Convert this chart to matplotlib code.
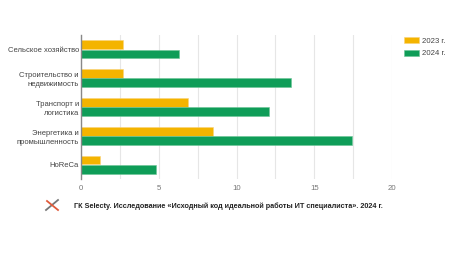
import matplotlib
matplotlib.use("Agg")
import matplotlib.pyplot as plt
import numpy as np

categories = ["Сельское хозяйство", "Строительство и\nнедвижимость", "Транспорт и\nлогистика",
              "Энергетика и\nпромышленность", "HoReCa"]
values_2023 = [2.7, 2.7, 6.9, 8.5, 1.2]
values_2024 = [6.3, 13.5, 12.1, 17.4, 4.85]
series_labels = ["2023 г.", "2024 г."]
xticks = [0, 5, 10, 15, 20]
footnote = "ГК Selecty. Исследование «Исходный код идеальной работы ИТ специалиста». 2024 г."

plt.rcParams['font.family'] = ['Liberation Sans', 'DejaVu Sans']

W, H = 462, 256
fig = plt.figure(figsize=(W/100, H/100), dpi=100)
ax = fig.add_axes([81/W, 1-179/H, (392-81)/W, (179-35)/H])

yellow = "#F4B400"
green = "#0F9D58"
n = len(categories)
y = np.arange(n)
bh = 0.3
ax.barh(y - bh/2 - 0.01, values_2023, height=bh, color=yellow, edgecolor="#f9d27a", linewidth=0.4, label=series_labels[0], zorder=3)
ax.barh(y + bh/2 + 0.01, values_2024, height=bh, color=green, edgecolor="#6cc597", linewidth=0.4, label=series_labels[1], zorder=3)

ax.set_ylim(n - 0.5, -0.5)
ax.set_xlim(0, 20)
ax.set_yticks(y)
ax.set_yticklabels(categories, fontsize=5.5, color="#444444", linespacing=1.45)
ax.set_xticks(xticks)
ax.set_xticklabels([str(t) for t in xticks], fontsize=5.6, color="#777777")
ax.set_xticks(np.arange(2.5, 20, 5), minor=True)
ax.tick_params(axis='y', length=0, pad=1.5)
ax.tick_params(axis='x', length=0, pad=4.5)
ax.tick_params(axis='x', which='minor', length=0)
ax.grid(axis='x', which='both', color="#e6e6e6", linewidth=0.8, zorder=0)
for s in ["top", "right", "bottom"]:
    ax.spines[s].set_visible(False)
ax.spines["left"].set_color("#888888")
ax.spines["left"].set_linewidth(1.0)
ax.spines["left"].set_zorder(4)

leg = ax.legend(loc="upper left", bbox_to_anchor=(397/W, 1-30/H), bbox_transform=fig.transFigure,
                frameon=False, fontsize=5.6, handlelength=1.9, handleheight=0.9,
                handletextpad=0.4, labelspacing=0.6)
for t in leg.get_texts():
    t.set_color("#444444")

fig.text(74/W, 1-206/H, footnote, fontsize=5.2, fontweight="bold", color="#222222", va="center", ha="left")

# small icon (crossed tools)
fig.add_artist(plt.Line2D([46/W, 58/W], [1-210/H, 1-200/H], color="#777777", linewidth=1.3))
fig.add_artist(plt.Line2D([47/W, 58/W], [1-201/H, 1-210/H], color="#e05a3a", linewidth=1.3))

fig.savefig("out.png", dpi=100, facecolor="white")
